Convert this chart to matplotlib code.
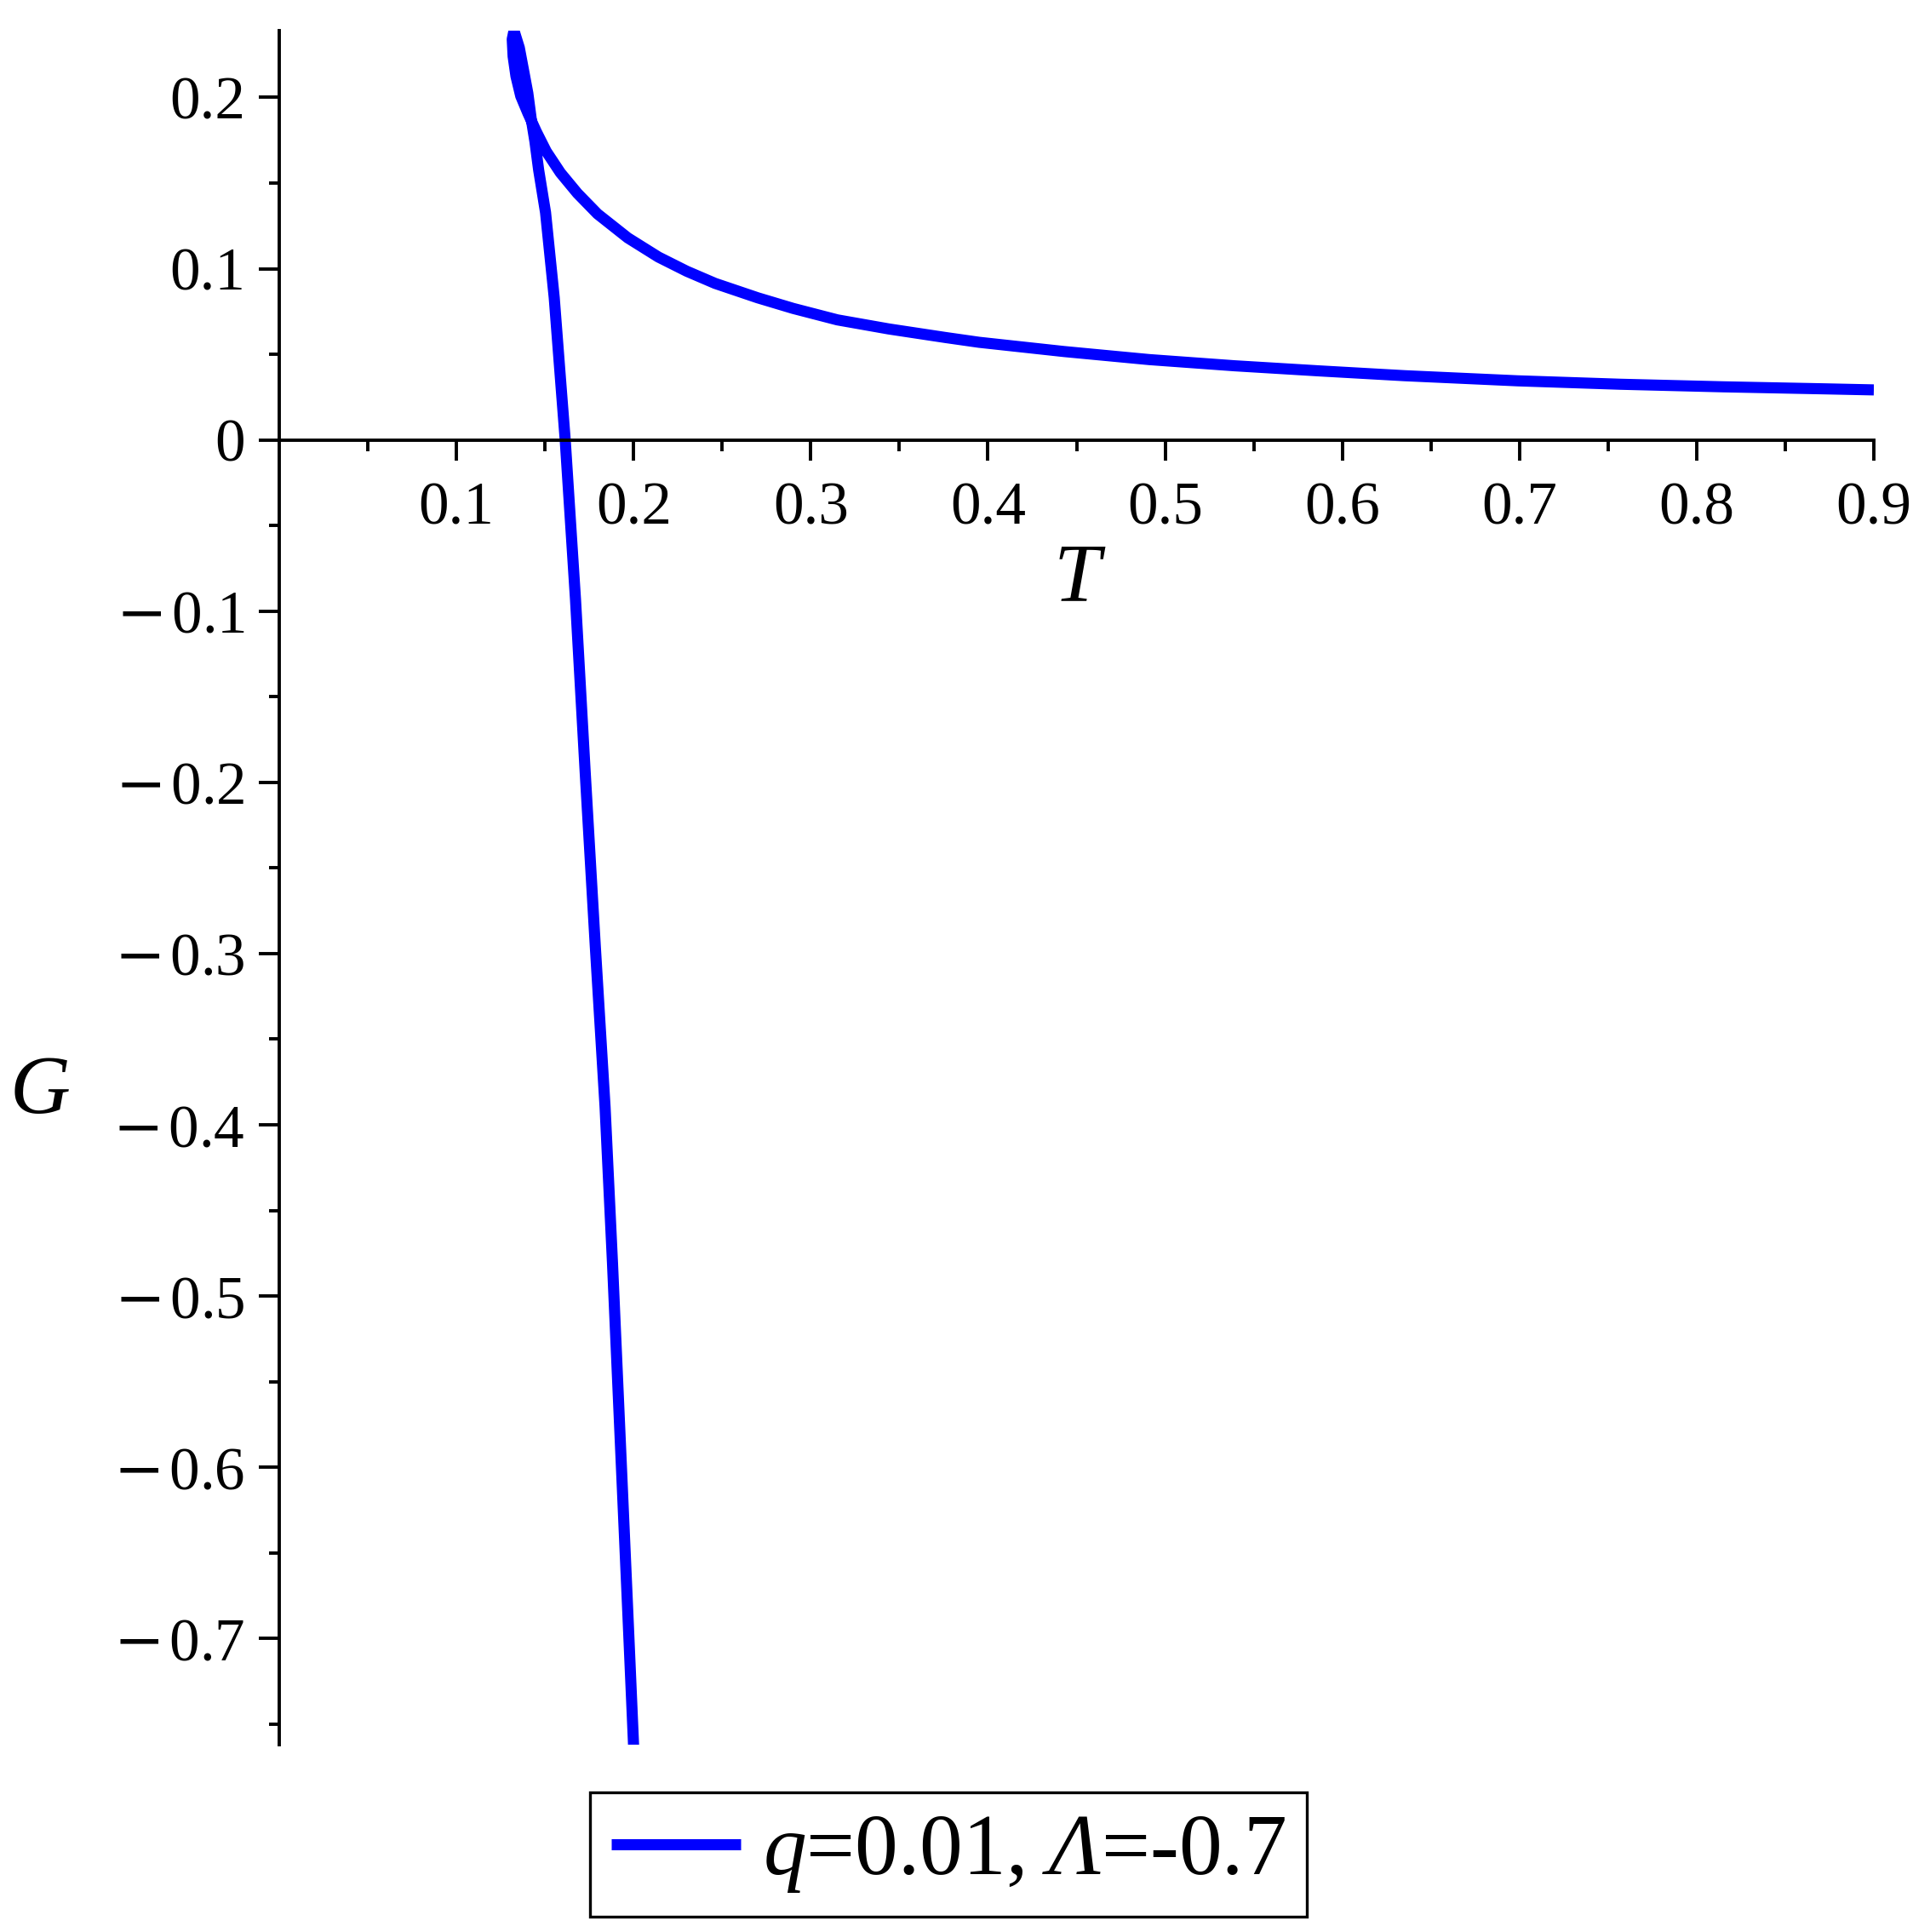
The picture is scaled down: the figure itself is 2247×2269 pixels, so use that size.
import matplotlib
matplotlib.use("Agg")
import matplotlib.pyplot as plt
import numpy as np

# curve: tail branch from T=0.9 back to the cusp, then down the steep branch
T_vals = [0.900, 0.873, 0.815, 0.757, 0.699, 0.635, 0.587, 0.539, 0.491, 0.443,
          0.395, 0.376, 0.344, 0.315, 0.290, 0.270, 0.246, 0.230, 0.214, 0.1967,
          0.1796, 0.1683, 0.1587, 0.1507, 0.1451, 0.1403, 0.1363, 0.1336, 0.1320, 0.1315,
          0.1325, 0.1355, 0.1379, 0.1403, 0.1422, 0.1443, 0.1464, 0.1503, 0.1552, 0.1589,
          0.1614, 0.1672, 0.1727, 0.1784, 0.1839, 0.1881, 0.1924, 0.1967, 0.2000]
G_vals = [0.0292, 0.0298, 0.0310, 0.0325, 0.0345, 0.0375, 0.0403, 0.0433, 0.0469, 0.0516,
          0.0570, 0.0598, 0.0648, 0.0701, 0.0768, 0.0830, 0.0914, 0.0985, 0.1068, 0.1180,
          0.1320, 0.1440, 0.1560, 0.1685, 0.1800, 0.1909, 0.2008, 0.2124, 0.2240, 0.2340,
          0.2390, 0.2290, 0.2158, 0.2025, 0.1876, 0.1743, 0.1577, 0.1328, 0.0831, 0.0333,
          0.0000, -0.0930, -0.1945, -0.2960, -0.3896, -0.4810, -0.5826, -0.6840, -0.7627]

x_major = [0.1, 0.2, 0.3, 0.4, 0.5, 0.6, 0.7, 0.8, 0.9]
x_labels = ['0.1', '0.2', '0.3', '0.4', '0.5', '0.6', '0.7', '0.8', '0.9']
y_major = [-0.7, -0.6, -0.5, -0.4, -0.3, -0.2, -0.1, 0.0, 0.1, 0.2]
y_labels = ['-0.7', '-0.6', '-0.5', '-0.4', '-0.3', '-0.2', '-0.1', '0', '0.1', '0.2']
legend_label = r'$q$=0.01, $\mathsf{\Lambda}$=-0.7'

plt.rcParams['font.family'] = ['Liberation Serif', 'DejaVu Serif']
plt.rcParams['mathtext.fontset'] = 'custom'
plt.rcParams['mathtext.rm'] = 'Liberation Serif'
plt.rcParams['mathtext.it'] = 'Liberation Serif:italic'
plt.rcParams['mathtext.sf'] = 'Liberation Serif:italic'
plt.rcParams['mathtext.bf'] = 'DejaVu Serif'  # only used for the long minus


def maple_label(s):
    # maple draws a long minus sign with a small gap before the number
    if s.startswith('-'):
        return r'$\mathbf{-}$' + '\u200a' + s[1:]
    return s


W, H = 2247, 2269
fig = plt.figure(figsize=(W / 200, H / 200), dpi=200, facecolor='white')
ax = fig.add_axes([328 / W, 1 - 2049 / H, (2201 - 328) / W, (2049 - 36) / H])

ax.plot(T_vals, G_vals, color='#0000ff', linewidth=4.7,
        solid_joinstyle='round', solid_capstyle='butt', label=legend_label)

ax.set_xlim(0, 0.9)
ax.set_ylim(-0.762, 0.239)

# maple style axes through the origin
ax.spines['top'].set_visible(False)
ax.spines['right'].set_visible(False)
ax.spines['bottom'].set_position(('data', 0))
ax.spines['left'].set_linewidth(1.4)
ax.spines['bottom'].set_linewidth(1.4)

ax.set_xticks(x_major)
ax.set_xticklabels(x_labels)
ax.set_xticks(np.arange(0.05, 0.9, 0.1), minor=True)
ax.set_yticks(y_major)
ax.set_yticklabels([maple_label(s) for s in y_labels])
ax.set_yticks(np.arange(-0.75, 0.239, 0.1), minor=True)

ax.tick_params(axis='both', which='major', direction='out', length=8.5, width=1.4,
               labelsize=25.6)
ax.tick_params(axis='both', which='minor', direction='out', length=4.5, width=1.4)
ax.tick_params(axis='x', which='major', pad=9)
ax.tick_params(axis='y', which='major', pad=6)

fig.text(1265 / W, 1 - 682 / H, 'T', fontsize=35.4, fontstyle='italic',
         ha='center', va='center')
fig.text(47 / W, 1 - 1284 / H, 'G', fontsize=35.4, fontstyle='italic',
         ha='center', va='center')

leg = ax.legend(loc='center', bbox_to_anchor=(1114 / W, 1 - 2178 / H),
                bbox_transform=fig.transFigure, fontsize=36.5, frameon=True,
                fancybox=False, edgecolor='black', framealpha=1,
                handlelength=1.5, handletextpad=0.25, borderpad=0.25,
                borderaxespad=0)
leg.get_frame().set_linewidth(1.2)

fig.savefig('out.png', dpi=200, facecolor='white')
